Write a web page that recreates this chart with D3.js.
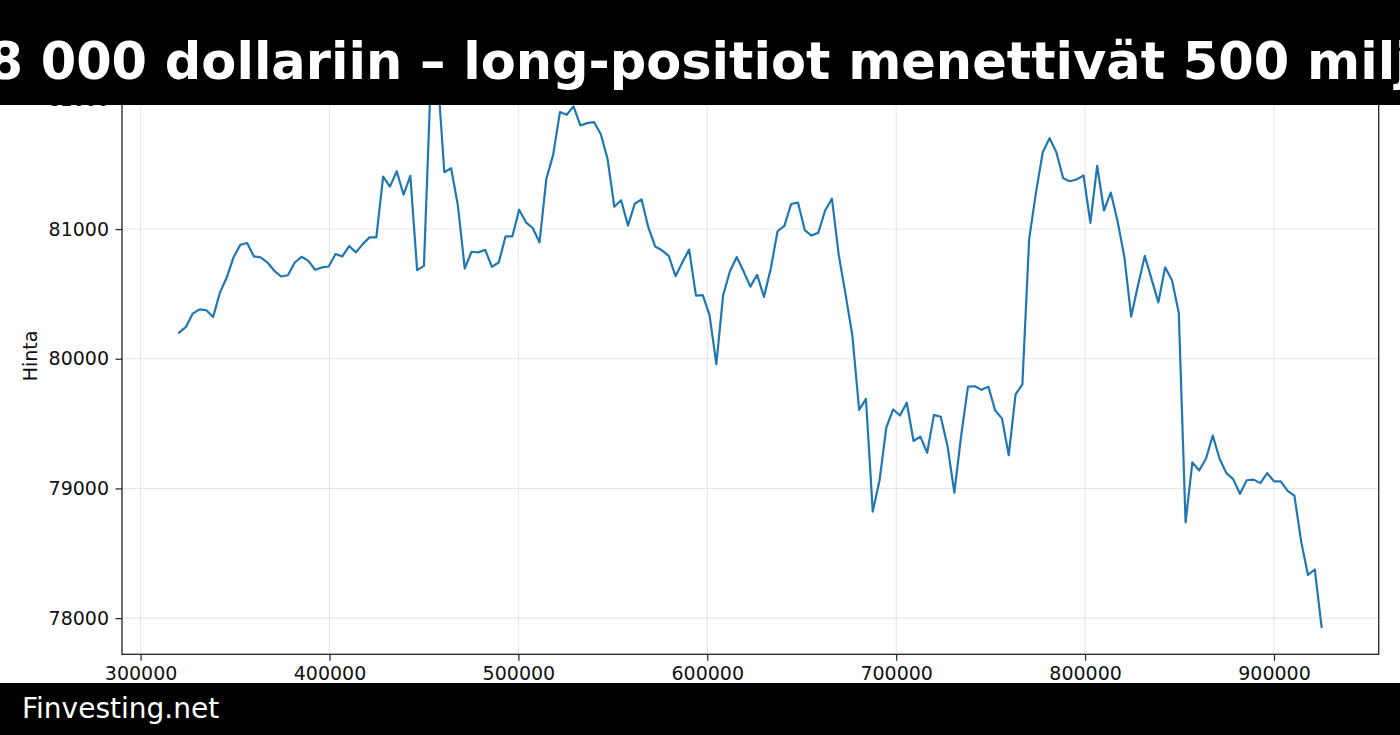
<!DOCTYPE html>
<html><head><meta charset="utf-8">
<script src="https://cdn.jsdelivr.net/npm/d3@7"></script>
<style>html,body{margin:0;padding:0;background:#fff;}svg{display:block;}</style>
</head><body>
<svg id="chart" width="1400" height="735"></svg>
<script>
const titleText = "8 000 dollariin – long-positiot menettivät 500 milj";
const footerText = "Finvesting.net";
const yLabel = "Hinta";
const xTicks = [300000, 400000, 500000, 600000, 700000, 800000, 900000];
const yTicks = [78000, 79000, 80000, 81000, 82000];
const xValues = [
320400, 324000, 327600, 331200, 334800, 338400, 342000, 345600, 349200, 352800,
356400, 360000, 363600, 367200, 370800, 374400, 378000, 381600, 385200, 388800,
392400, 396000, 399600, 403200, 406800, 410400, 414000, 417600, 421200, 424800,
428400, 432000, 435600, 439200, 442800, 446400, 450000, 453600, 457200, 460800,
464400, 468000, 471600, 475200, 478800, 482400, 486000, 489600, 493200, 496800,
500400, 504000, 507600, 511200, 514800, 518400, 522000, 525600, 529200, 532800,
536400, 540000, 543600, 547200, 550800, 554400, 558000, 561600, 565200, 568800,
572400, 576000, 579600, 583200, 586800, 590400, 594000, 597600, 601200, 604800,
608400, 612000, 615600, 619200, 622800, 626400, 630000, 633600, 637200, 640800,
644400, 648000, 651600, 655200, 658800, 662400, 666000, 669600, 673200, 676800,
680400, 684000, 687600, 691200, 694800, 698400, 702000, 705600, 709200, 712800,
716400, 720000, 723600, 727200, 730800, 734400, 738000, 741600, 745200, 748800,
752400, 756000, 759600, 763200, 766800, 770400, 774000, 777600, 781200, 784800,
788400, 792000, 795600, 799200, 802800, 806400, 810000, 813600, 817200, 820800,
824400, 828000, 831600, 835200, 838800, 842400, 846000, 849600, 853200, 856800,
860400, 864000, 867600, 871200, 874800, 878400, 882000, 885600, 889200, 892800,
896400, 900000, 903600, 907200, 910800, 914400, 918000, 921600, 925200];
const priceValues = [
80201, 80245, 80348, 80381, 80374, 80322, 80510, 80626, 80781, 80879,
80892, 80789, 80781, 80742, 80678, 80634, 80644, 80742, 80786, 80755,
80686, 80704, 80711, 80807, 80789, 80869, 80820, 80884, 80936, 80936,
81405, 81327, 81446, 81265, 81410, 80683, 80716, 82150, 82200, 81438,
81469, 81180, 80696, 80825, 80820, 80840, 80709, 80742, 80943, 80943,
81149, 81052, 81008, 80897, 81387, 81572, 81902, 81881, 81946, 81799,
81817, 81825, 81733, 81542, 81172, 81222, 81027, 81195, 81229, 81012,
80866, 80836, 80793, 80636, 80743, 80842, 80487, 80490, 80336, 79959,
80490, 80675, 80785, 80675, 80556, 80647, 80477, 80694, 80983, 81025,
81193, 81204, 80992, 80950, 80972, 81143, 81234, 80799, 80496, 80179,
79606, 79691, 78821, 79063, 79471, 79609, 79562, 79661, 79366, 79399,
79275, 79567, 79553, 79325, 78967, 79408, 79785, 79788, 79760, 79785,
79601, 79540, 79256, 79725, 79802, 80923, 81281, 81592, 81700, 81592,
81391, 81369, 81383, 81413, 81047, 81488, 81143, 81281, 81061, 80785,
80325, 80565, 80793, 80614, 80435, 80705, 80606, 80355, 78739, 79201,
79138, 79229, 79408, 79229, 79118, 79072, 78959, 79063, 79068, 79041,
79118, 79055, 79055, 78981, 78945, 78590, 78333, 78375, 77934];

(function () {
const svg = d3.select("#chart");
const W = 1400, H = 735;
const pl = 122, pr = 1378.7, pt = 45.8, pb = 654.3;
const x = d3.scaleLinear().domain([290160, 955440]).range([pl, pr]);
const y = d3.scaleLinear().domain([77721, 82413]).range([pb, pt]);
const font = "'DejaVu Sans', sans-serif";

svg.append("rect").attr("width", W).attr("height", H).attr("fill", "#fff");

const grid = svg.append("g");
grid.selectAll("line.gx").data(xTicks).join("line").attr("class", "gx")
  .attr("x1", d => x(d)).attr("x2", d => x(d)).attr("y1", pt).attr("y2", pb)
  .attr("stroke", "#b0b0b0").attr("stroke-opacity", 0.3).attr("stroke-width", 1.1);
grid.selectAll("line.gy").data(yTicks).join("line").attr("class", "gy")
  .attr("y1", d => y(d)).attr("y2", d => y(d)).attr("x1", pl).attr("x2", pr)
  .attr("stroke", "#b0b0b0").attr("stroke-opacity", 0.3).attr("stroke-width", 1.1);

const pts = xValues.map((v, i) => [v, priceValues[i]]);
svg.append("defs").append("clipPath").attr("id", "clip")
  .append("rect").attr("x", pl).attr("y", pt).attr("width", pr - pl).attr("height", pb - pt);
svg.append("path").datum(pts)
  .attr("clip-path", "url(#clip)")
  .attr("d", d3.line().x(d => x(d[0])).y(d => y(d[1])))
  .attr("fill", "none").attr("stroke", "#1f77b4").attr("stroke-width", 2.2)
  .attr("stroke-linejoin", "round").attr("stroke-linecap", "square");

const fmt = d3.format("d");
const xAxis = d3.axisBottom(x).tickValues(xTicks).tickFormat(fmt).tickSize(6.5).tickPadding(6);
const yAxis = d3.axisLeft(y).tickValues(yTicks).tickFormat(fmt).tickSize(6.5).tickPadding(6.5);
const gx = svg.append("g").attr("transform", `translate(0,${pb})`).call(xAxis);
const gy = svg.append("g").attr("transform", `translate(${pl},0)`).call(yAxis);
[gx, gy].forEach(g => {
  g.select(".domain").remove();
  g.selectAll(".tick line").attr("stroke", "#222").attr("stroke-width", 1.2);
  g.selectAll(".tick text").attr("fill", "#111").style("font-family", font).style("font-size", "19px");
});

svg.append("rect").attr("x", pl).attr("y", pt).attr("width", pr - pl).attr("height", pb - pt)
  .attr("fill", "none").attr("stroke", "#222").attr("stroke-width", 1.3);

svg.append("text").attr("transform", `translate(31,356) rotate(-90)`)
  .attr("text-anchor", "middle").attr("dominant-baseline", "middle")
  .style("font-family", font).style("font-size", "19px").attr("fill", "#111").text(yLabel);

svg.append("rect").attr("x", 0).attr("y", 0).attr("width", W).attr("height", 105).attr("fill", "#000");
svg.append("text").attr("x", 700).attr("y", 78.5).attr("text-anchor", "middle")
  .style("font-family", font).style("font-weight", "bold").style("font-size", "51px")
  .attr("fill", "#fff").text(titleText);

svg.append("rect").attr("x", 0).attr("y", 683).attr("width", W).attr("height", 52).attr("fill", "#000");
svg.append("text").attr("x", 22).attr("y", 718)
  .style("font-family", font).style("font-size", "28px").attr("fill", "#fff").text(footerText);
})();
</script>
</body></html>
